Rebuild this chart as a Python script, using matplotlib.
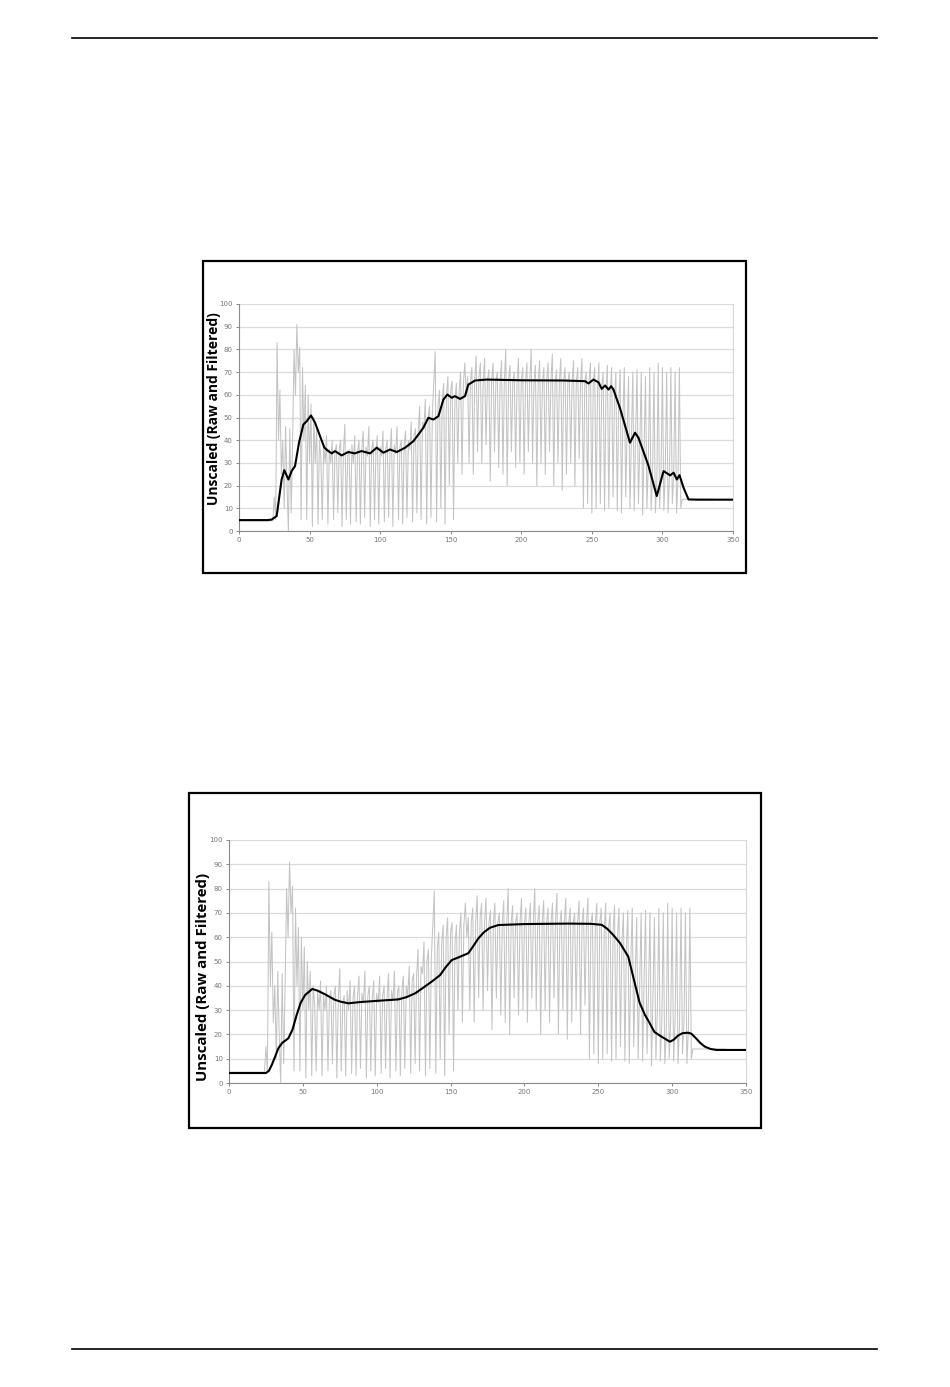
import matplotlib
matplotlib.use("Agg")
import matplotlib.pyplot as plt
from matplotlib.lines import Line2D
from matplotlib.patches import Rectangle

# ---------------- data ----------------
raw_values = [
    4.5, 4.5, 4.5, 4.5, 4.5, 4.5, 4.5, 4.5, 4.5, 4.5,
    4.5, 4.5, 4.5, 4.5, 4.5, 4.5, 4.5, 4.5, 4.5, 4.5,
    4.5, 4.5, 4.5, 4.5, 4.5, 15, 5, 83, 40, 62,
    25, 40, 10, 46, 20, 0, 45, 8, 40, 80,
    60, 91, 70, 81, 5, 72, 40, 64, 5, 60,
    30, 56, 2, 50, 30, 46, 3, 40, 32, 5,
    38, 30, 42, 3, 36, 30, 40, 5, 35, 38,
    8, 36, 40, 2, 35, 47, 5, 33, 36, 3,
    38, 30, 42, 4, 35, 40, 3, 36, 44, 6,
    37, 33, 46, 2, 36, 40, 5, 35, 42, 3,
    37, 33, 44, 4, 36, 40, 6, 35, 45, 2,
    38, 34, 46, 5, 37, 40, 3, 38, 44, 6,
    40, 36, 48, 4, 42, 45, 8, 44, 55, 5,
    48, 45, 58, 3, 50, 55, 6, 52, 65, 79,
    4, 55, 62, 10, 58, 65, 3, 60, 68, 20,
    62, 66, 5, 58, 65, 30, 62, 70, 25, 65,
    74, 60, 68, 30, 66, 72, 25, 66, 77, 35,
    68, 74, 30, 66, 76, 38, 66, 71, 22, 66,
    74, 35, 66, 70, 28, 66, 75, 25, 66, 80,
    20, 66, 73, 35, 66, 70, 28, 66, 76, 30,
    66, 72, 25, 66, 74, 35, 66, 80, 30, 66,
    73, 20, 66, 75, 30, 66, 72, 25, 66, 74,
    35, 66, 78, 20, 66, 71, 30, 66, 76, 18,
    66, 72, 25, 66, 70, 30, 66, 75, 20, 66,
    72, 32, 66, 76, 10, 66, 70, 12, 66, 74,
    8, 66, 72, 10, 62, 74, 12, 64, 70, 9,
    62, 73, 10, 60, 72, 15, 58, 70, 9, 55,
    71, 8, 50, 72, 15, 45, 68, 10, 40, 70,
    9, 42, 71, 12, 38, 70, 7, 35, 68, 10,
    30, 72, 9, 25, 70, 8, 20, 74, 10, 25,
    72, 9, 26, 70, 8, 24, 72, 12, 25, 70,
    8, 22, 72, 10, 14, 14, 14, 14, 14, 14,
    14, 14, 14, 14, 14, 14, 14, 14, 14, 14,
    14, 14, 14, 14, 14, 14, 14,
]
raw_x = list(range(len(raw_values)))

filt1_x = [0, 20, 23, 26.7, 30.2, 32.1, 35, 37.3, 39.7, 42.5, 45.6, 48, 51, 53.9,
           57.4, 60.5, 63.3, 65.7, 68, 72.7, 77.4, 82, 86.8, 92.9, 97.6, 102.3,
           107, 111.8, 117.7, 123.6, 127.1, 130.6, 134.2, 137.7, 141.3, 144.8,
           147.6, 150.7, 153, 156.6, 160.1, 162.5, 167.2, 175.5, 200, 230, 245.2,
           247.6, 251.1, 254.7, 257, 259.4, 261.8, 263.7, 265.3, 270, 277, 280.6,
           283, 290, 296, 300.8, 305.5, 307.9, 310.2, 312.1, 315, 318.5, 325, 350]
filt1_y = [4.8, 4.8, 5.0, 6.6, 22.7, 26.8, 22.7, 26.4, 28.6, 38.9, 46.9, 48.4, 50.9, 47.7,
           41.8, 36.7, 35.2, 34.2, 35.2, 33.3, 34.8, 34.2, 35.2, 34.2, 36.7, 34.5,
           35.9, 34.8, 36.7, 39.6, 42.5, 45.5, 49.9, 49.1, 50.6, 57.9,
           60.1, 58.7, 59.4, 58.2, 59.4, 64.5, 66.3, 66.7, 66.4, 66.3, 66.0,
           65.0, 66.7, 65.5, 62.6, 64.1, 62.3, 63.8, 62.3, 54.0, 38.9, 43.3,
           41.1, 29.0, 15.4, 26.4, 24.5, 25.7, 22.7, 24.6, 19.0, 13.9, 13.8, 13.8]

filt2_x = [0, 25, 27, 29, 31, 33.4, 36, 40.2, 43, 45.8, 48.5, 51.5, 56.4, 60, 65,
           71.8, 76, 80.8, 88.7, 100, 114.6, 120, 126, 131, 137.2, 142.9, 146.5,
           150.8, 155, 162, 165, 168.8, 172.5, 176.7, 182.3, 200, 230, 245,
           252.3, 256, 260, 264.7, 270.3, 275, 278, 281.6, 284, 288, 293, 298.5,
           301, 304, 307, 310.8, 313, 316, 319, 322, 326, 330, 350]
filt2_y = [4.1, 4.1, 5.0, 7.5, 10.5, 14.3, 16.5, 18.4, 22.0, 28.0, 33.0, 36.2, 38.7, 38.0, 36.5,
           34.2, 33.4, 32.8, 33.3, 33.8, 34.4, 35.3, 36.9, 39.0, 41.7, 44.4, 47.5,
           50.6, 51.6, 53.4, 56.0, 59.5, 62.0, 63.9, 65.0, 65.4, 65.6, 65.5,
           65.1, 63.5, 61.0, 57.6, 52.0, 40.3, 33.0, 28.0, 25.5, 21.0, 19.0, 17.0,
           17.8, 19.5, 20.5, 20.7, 20.3, 18.5, 16.5, 15.0, 14.0, 13.6, 13.6]

y_ticks = [0, 10, 20, 30, 40, 50, 60, 70, 80, 90, 100]
x_ticks = [0, 50, 100, 150, 200, 250, 300, 350]
y_label = "Unscaled (Raw and Filtered)"

# ---------------- figure ----------------
W, H = 950, 1387
fig = plt.figure(figsize=(W / 100, H / 100), dpi=100)
fig.patch.set_facecolor("white")


def fx(px):
    return px / W


def fy(py):
    return 1 - py / H


# page rules
for py in (38, 1349):
    fig.add_artist(Line2D([fx(72), fx(877)], [fy(py), fy(py)], color="black", lw=1.2))


def make_chart(box, ax_rect, fx_data, fy_data, label_x, label_y, label_size):
    bx0, by0, bx1, by1 = box
    fig.add_artist(Rectangle((fx(bx0), fy(by1)), fx(bx1) - fx(bx0), fy(by0) - fy(by1),
                             fill=False, edgecolor="black", lw=1.6,
                             transform=fig.transFigure))
    ax0, ay0, ax1, ay1 = ax_rect
    ax = fig.add_axes([fx(ax0), fy(ay1), fx(ax1) - fx(ax0), fy(ay0) - fy(ay1)])
    ax.plot(raw_x, raw_values, color="#c4c4c4", lw=0.75, zorder=2)
    ax.plot(fx_data, fy_data, color="black", lw=1.5, zorder=3)
    ax.set_xlim(0, 350)
    ax.set_ylim(0, 100)
    ax.set_xticks(x_ticks)
    ax.set_yticks(y_ticks)
    ax.set_xticklabels([str(t) for t in x_ticks])
    ax.set_yticklabels([str(t) for t in y_ticks])
    ax.tick_params(labelsize=5, colors="#777777", length=2.5, width=0.6, pad=2)
    ax.yaxis.grid(True, color="#dcdcdc", lw=0.9, zorder=0)
    ax.set_axisbelow(True)
    for side in ("left", "bottom"):
        ax.spines[side].set_color("#8a8a8a")
        ax.spines[side].set_linewidth(0.8)
    ax.spines["right"].set_color("#d8d8d8")
    ax.spines["right"].set_linewidth(0.8)
    ax.spines["top"].set_visible(False)
    fig.text(fx(label_x), fy(label_y), y_label, rotation=90, ha="center", va="center",
             fontsize=label_size, fontweight="bold", family="Open Sans")
    return ax


make_chart((203, 261, 746, 573), (239, 304, 733, 531), filt1_x, filt1_y, 214, 409, 10.0)
make_chart((189, 793, 761, 1128), (229, 840, 746, 1083), filt2_x, filt2_y, 203, 977, 10.8)

fig.savefig("out.png", dpi=100, facecolor="white")
